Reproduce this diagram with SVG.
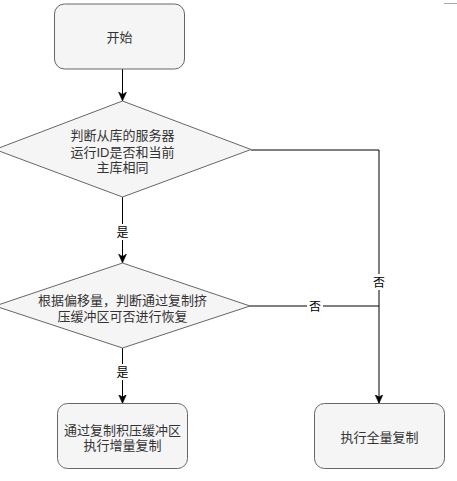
<svg xmlns="http://www.w3.org/2000/svg" width="457" height="481" viewBox="0 0 457 481">
<style>
.node{fill:#f5f5f5;stroke:#666666;stroke-width:1}
.t{font-family:"Liberation Sans","Noto Sans CJK SC",sans-serif;font-size:13px;fill:#333333;text-anchor:middle}
.e{fill:none;stroke:#000000;stroke-width:1}
.lbl{font-family:"Liberation Sans","Noto Sans CJK SC",sans-serif;font-size:12px;fill:#000000;text-anchor:middle}
</style>
<defs>
<marker id="arr" markerUnits="userSpaceOnUse" markerWidth="10" markerHeight="10" viewBox="0 0 10 10" refX="9" refY="5" orient="auto">
<path d="M0,1 L9,5 L0,9 L2.5,5 Z" fill="#000000" stroke="#000000" stroke-width="0.5"/>
</marker>
</defs>
<rect x="0" y="0" width="457" height="481" fill="#ffffff"/>
<line x1="444" y1="3.5" x2="457" y2="3.5" stroke="#aaaaaa" stroke-width="1"/>
<g id="connectors">
<path class="e" d="M122.5 69 V101" marker-end="url(#arr)"/>
<path class="e" d="M122.5 197 V263" marker-end="url(#arr)"/>
<path class="e" d="M122.5 348 V403.5" marker-end="url(#arr)"/>
<path class="e" d="M251 150 H379 V403.5" marker-end="url(#arr)"/>
<path class="e" d="M250 306 H379"/>
<rect x="115" y="224" width="15" height="16" fill="#ffffff"/>
<text class="lbl" x="122.5" y="236.5">是</text>
<rect x="115" y="364" width="15" height="16" fill="#ffffff"/>
<text class="lbl" x="122.5" y="376.5">是</text>
<rect x="371" y="274" width="16" height="16" fill="#ffffff"/>
<text class="lbl" x="379" y="286.5">否</text>
<rect x="307" y="298" width="16" height="16" fill="#ffffff"/>
<text class="lbl" x="315" y="310.5">否</text>
</g>
<g id="start">
<rect class="node" x="54.5" y="4" width="130" height="65" rx="10" ry="10"/>
<text class="t" x="119.5" y="41.5">开始</text>
</g>
<g id="decision1">
<polygon class="node" points="122.5,101 251,149.5 122.5,197 -5,149.5"/>
<text class="t" x="122.5" y="140">判断从库的服务器</text>
<text class="t" x="122.5" y="156.5">运行ID是否和当前</text>
<text class="t" x="122.5" y="172">主库相同</text>
</g>
<g id="decision2">
<polygon class="node" points="122.5,263 250,306 122.5,348 -5,306"/>
<text class="t" x="122.5" y="304.5">根据偏移量，判断通过复制挤</text>
<text class="t" x="122.5" y="320.5">压缓冲区可否进行恢复</text>
</g>
<g id="incremental">
<rect class="node" x="57.5" y="403.5" width="130" height="65" rx="10" ry="10"/>
<text class="t" x="122.5" y="434.5">通过复制积压缓冲区</text>
<text class="t" x="122.5" y="450">执行增量复制</text>
</g>
<g id="full">
<rect class="node" x="314.5" y="403.5" width="130" height="65" rx="10" ry="10"/>
<text class="t" x="379.5" y="442">执行全量复制</text>
</g>
</svg>
